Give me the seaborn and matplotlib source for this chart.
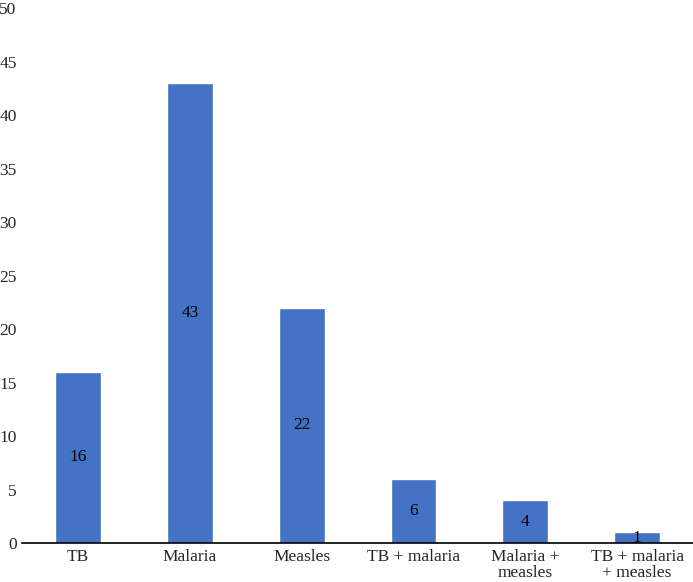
import pandas as pd
import seaborn as sns
import matplotlib.pyplot as plt

# data
categories = ['TB', 'Malaria', 'Measles', 'TB + malaria', 'Malaria +\nmeasles', 'TB + malaria\n+ measles']
counts = [16, 43, 22, 6, 4, 1]

df = pd.DataFrame({'category': categories, 'count': counts})

sns.set_style('white')
plt.rcParams['font.family'] = ['Liberation Serif', 'DejaVu Serif']

fig = plt.figure(figsize=(6.93, 5.82), dpi=100)
ax = fig.add_axes([0.032, 0.067, 0.968, 0.919])

sns.barplot(x='category', y='count', data=df, color='#4472C4', width=0.41,
            saturation=1, ax=ax)

# value labels in the middle of each bar
for i, v in enumerate(counts):
    ax.text(i, v / 2, str(v), ha='center', va='center', fontsize=12.5, color='black')

ax.set_ylim(0, 50)
ax.set_yticks(range(0, 51, 5))
ax.set_xlim(-0.5, len(categories) - 0.5)
ax.set_xlabel('')
ax.set_ylabel('')
ax.tick_params(axis='both', length=0, labelsize=12.5, pad=4)
ax.tick_params(axis='x', pad=4)
for lab in ax.get_xticklabels():
    lab.set_linespacing(1.0)

for s in ['top', 'right', 'left']:
    ax.spines[s].set_visible(False)
ax.spines['bottom'].set_color('black')
ax.spines['bottom'].set_linewidth(1.2)

plt.savefig('out.png', dpi=100)
